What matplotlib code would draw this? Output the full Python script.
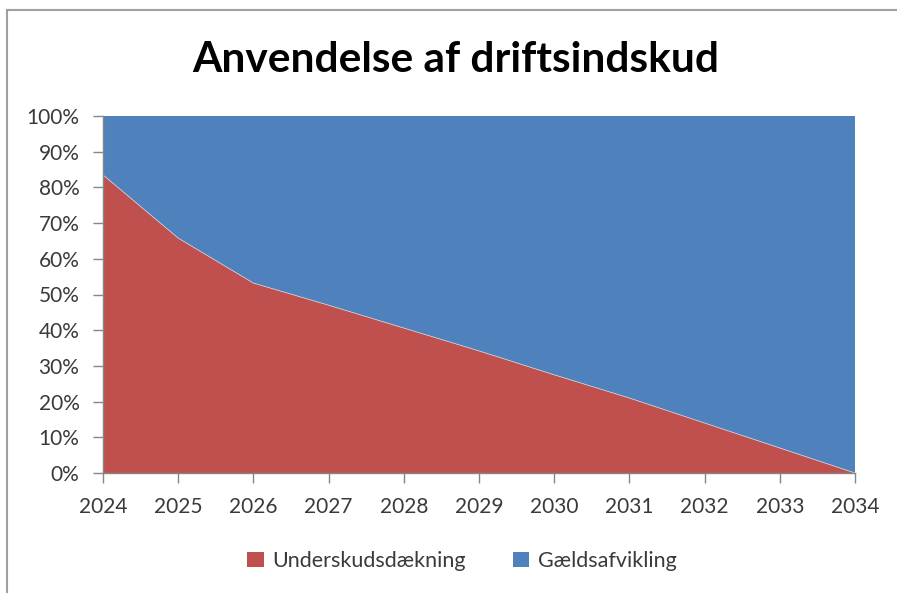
import matplotlib
matplotlib.use("Agg")
import matplotlib.pyplot as plt
from matplotlib.lines import Line2D
from matplotlib.patches import Patch
import numpy as np

years = [2024, 2025, 2026, 2027, 2028, 2029, 2030, 2031, 2032, 2033, 2034]
underskud = [83.5, 65.8, 53.2, 47.0, 40.6, 34.2, 27.5, 21.0, 14.0, 7.0, 0.0]
gaeld = [100 - v for v in underskud]
series_names = ["Underskudsdækning", "Gældsafvikling"]
colors = ["#C0504D", "#4F81BD"]
title = "Anvendelse af driftsindskud"
yticks = list(range(0, 101, 10))

plt.rcParams['font.family'] = ['Lato', 'DejaVu Sans']

fig = plt.figure(figsize=(8.97, 5.93), dpi=100)
ax = fig.add_axes([103/897, 1 - 473/593, (855 - 103)/897, (473 - 116)/593])

ax.stackplot(years, underskud, gaeld, colors=colors, linewidth=0)
ax.plot(years, underskud, color="#e8e8e8", lw=0.6, alpha=0.7)

ax.set_xlim(years[0], years[-1])
ax.set_ylim(0, 100)
ax.set_yticks(yticks)
ax.set_yticklabels([f"{t}%" for t in yticks])
ax.set_xticks(years)
ax.set_xticklabels([str(y) for y in years])

for s in ["top", "right"]:
    ax.spines[s].set_visible(False)
for s in ["left", "bottom"]:
    ax.spines[s].set_color("#868686")
    ax.spines[s].set_linewidth(1)
ax.tick_params(axis="both", direction="out", length=7, width=1, color="#868686",
               labelsize=15, labelcolor="#3a3a3a")
ax.tick_params(axis="y", pad=10)
ax.tick_params(axis="x", pad=10)

fig.text(456/897, 1 - 60/593, title, ha="center", va="center",
         fontsize=30.5, fontweight="bold", color="black")

handles = [Patch(facecolor=c, edgecolor="none") for c in colors]
leg = fig.legend(handles, series_names, loc="center", bbox_to_anchor=(462/897, 1 - 561/593),
                 ncol=2, frameon=False, fontsize=15.5, handlelength=0.75, handleheight=0.75,
                 handletextpad=0.4, columnspacing=2.2)
for t in leg.get_texts():
    t.set_color("#3a3a3a")

# outer frame
fig.add_artist(Line2D([7/897, 1], [1 - 10/593, 1 - 10/593], color="#a0a0a0", lw=1.5))
fig.add_artist(Line2D([7/897, 7/897], [0, 1 - 10/593], color="#a0a0a0", lw=1.5))

fig.savefig("out.png", dpi=100)
